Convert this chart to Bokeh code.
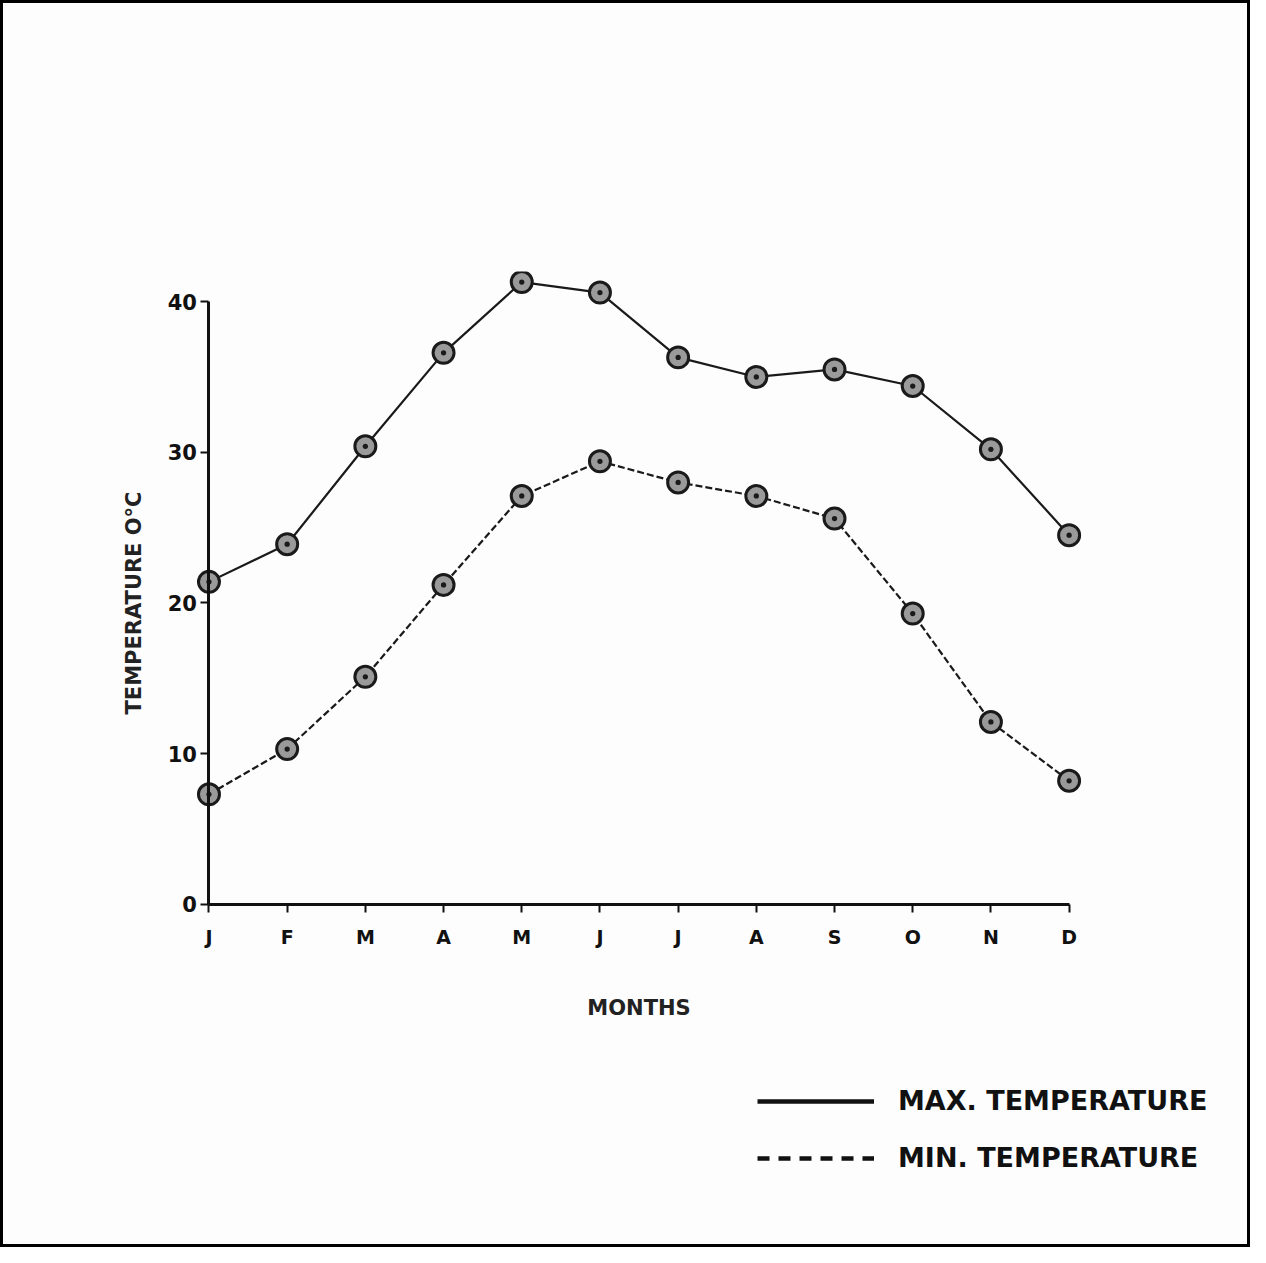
from bokeh.plotting import figure
from bokeh.models import Range1d, FixedTicker, Legend, LegendItem, ColumnDataSource
from bokeh.embed import file_html
from bokeh.resources import INLINE

months = ["J", "F", "M", "A", "M", "J", "J", "A", "S", "O", "N", "D"]
max_temp = [21.4, 23.9, 30.4, 36.6, 41.3, 40.6, 36.3, 35.0, 35.5, 34.4, 30.2, 24.5]
min_temp = [7.3, 10.3, 15.1, 21.2, 27.1, 29.4, 28.0, 27.1, 25.6, 19.3, 12.1, 8.2]
y_ticks = [0, 10, 20, 30, 40]

xs = list(range(len(months)))
src_max = ColumnDataSource(dict(x=xs, y=max_temp))
src_min = ColumnDataSource(dict(x=xs, y=min_temp))

FONT = "DejaVu Sans"

p = figure(width=1250, height=1247, output_backend="svg", toolbar_location=None,
           x_range=Range1d(-1.4, 13), y_range=Range1d(-18, 42),
           min_border_left=96, min_border_right=28,
           min_border_top=268, min_border_bottom=75)
p.styles = {"border": "3px solid black", "box-sizing": "border-box"}
p.outline_line_color = None
p.xgrid.visible = False
p.ygrid.visible = False
p.background_fill_color = "#fdfdfd"
p.border_fill_color = "#fdfdfd"

# axes (drawn at the data origin)
p.xaxis.ticker = FixedTicker(ticks=xs)
p.xaxis.major_label_overrides = {i: m for i, m in enumerate(months)}
p.xaxis.bounds = (0, 11)
p.xaxis.fixed_location = 0
p.yaxis.ticker = FixedTicker(ticks=y_ticks)
p.yaxis.bounds = (0, 40)
p.yaxis.fixed_location = 0
for ax in (p.xaxis[0], p.yaxis[0]):
    ax.axis_line_color = "#111111"
    ax.axis_line_width = 3
    ax.major_tick_line_color = "#111111"
    ax.major_tick_line_width = 2
    ax.major_tick_out = 8
    ax.major_tick_in = 0
    ax.minor_tick_line_color = None
    ax.major_label_text_font = FONT
    ax.major_label_text_font_style = "bold"
    ax.major_label_text_color = "#111111"
    ax.axis_label_text_font = FONT
    ax.axis_label_text_font_style = "bold"
    ax.axis_label_text_color = "#222222"

p.xaxis.major_label_text_font_size = "19px"
p.xaxis.major_label_standoff = 14
p.xaxis.axis_label = "MONTHS"
p.xaxis.axis_label_text_font_size = "21px"
p.xaxis.axis_label_standoff = 44

p.yaxis.major_label_text_font_size = "21px"
p.yaxis.major_label_standoff = 4
p.yaxis.axis_label = "TEMPERATURE O°C"
p.yaxis.axis_label_text_font_size = "21px"
p.yaxis.axis_label_standoff = 18

# lines
p.line("x", "y", source=src_max, line_color="#1a1a1a", line_width=2.2)
p.line("x", "y", source=src_min, line_color="#1a1a1a", line_width=2.2, line_dash="7 3")
p.scatter("x", "y", source=src_max, marker="circle_dot", size=21, fill_color="#9a9a9a",
          line_color="#1a1a1a", line_width=3)
p.scatter("x", "y", source=src_min, marker="circle_dot", size=21, fill_color="#9a9a9a",
          line_color="#1a1a1a", line_width=3)

# legend proxies
lg_max = p.line([0, 1], [0, 0], line_color="#111111", line_width=4.5, visible=False)
lg_min = p.line([0, 1], [0, 0], line_color="#111111", line_width=4.5, line_dash="12 9", visible=False)
legend = Legend(items=[LegendItem(label="MAX. TEMPERATURE", renderers=[lg_max]),
                       LegendItem(label="MIN. TEMPERATURE", renderers=[lg_min])],
                location=(658, 2), glyph_width=117, glyph_height=30,
                label_standoff=24, spacing=26,
                label_text_font=FONT, label_text_font_style="bold",
                label_text_font_size="27px", label_text_color="#111111",
                border_line_color=None, background_fill_alpha=0,
                padding=4, margin=0)
p.add_layout(legend, "center")

open("out.html", "w").write(file_html(p, INLINE))
